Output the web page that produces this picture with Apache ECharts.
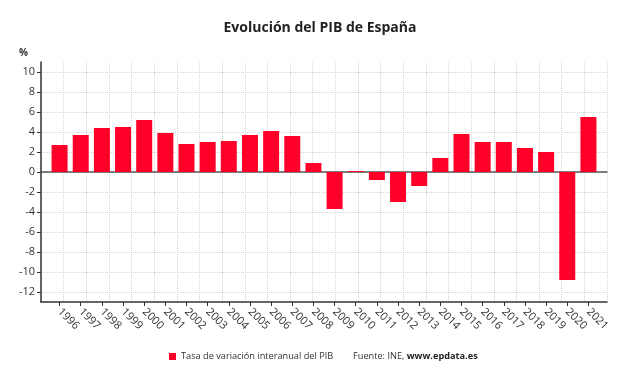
<!DOCTYPE html>
<html>
<head>
<meta charset="utf-8">
<script src="https://cdn.jsdelivr.net/npm/echarts@6/dist/echarts.min.js"></script>
<style>
  html, body { margin: 0; padding: 0; background: #fff; }
  #main { width: 640px; height: 376px; }
</style>
</head>
<body>
<div id="main"></div>
<script>
// datos
var years = ['1996', '1997', '1998', '1999', '2000', '2001', '2002', '2003', '2004',
  '2005', '2006', '2007', '2008', '2009', '2010', '2011', '2012', '2013', '2014',
  '2015', '2016', '2017', '2018', '2019', '2020', '2021'];
var pib = [2.7, 3.7, 4.4, 4.5, 5.2, 3.9, 2.8, 3.0, 3.1, 3.7, 4.1, 3.6, 0.9,
  -3.7, 0.1, -0.8, -3.0, -1.4, 1.4, 3.8, 3.0, 3.0, 2.4, 2.0, -10.8, 5.5];
var seriesName = 'Tasa de variación interanual del PIB';

var myChart = echarts.init(document.getElementById('main'));
var font = '"Open Sans", "Noto Sans", sans-serif';
var gridLine = { color: '#d4d4d4', type: 'dotted', width: 1 };

var option = {
  backgroundColor: '#FFFFFF',
  animation: false,
  textStyle: { fontFamily: font },
  title: [{
    left: 'center',
    top: 16,
    text: 'Evolución del PIB de España',
    textStyle: { fontSize: 14, fontWeight: 'bold', color: '#222', fontFamily: font }
  }, {
    left: 14,
    top: 43,
    text: '%',
    textStyle: { fontSize: 10, fontWeight: 'bold', color: '#333', fontFamily: font }
  }, {
    left: 348,
    top: 347,
    text: '{a|Fuente: INE, }{b|www.epdata.es}',
    textStyle: {
      fontWeight: 'normal',
      rich: {
        a: { fontSize: 9.2, color: '#333', fontWeight: 'normal', fontFamily: font },
        b: { fontSize: 9.2, color: '#222', fontWeight: 'bold', fontFamily: font }
      }
    }
  }],
  legend: {
    left: 164,
    top: 347,
    itemWidth: 7,
    itemHeight: 7,
    icon: 'rect',
    itemGap: 5,
    textStyle: { fontSize: 9.2, color: '#333', fontFamily: font },
    data: [seriesName]
  },
  grid: [
    // etiquetas y lineas horizontales (-12..10)
    { left: 41, right: 33, top: 72, bottom: 84 },
    // marco completo (-13..11)
    { left: 41, right: 33, top: 62, bottom: 74 },
    // barras
    { left: 49, right: 41, top: 62, bottom: 74 }
  ],
  xAxis: [{
    gridIndex: 0,
    type: 'value',
    min: 0, max: 1,
    axisLine: { show: true, onZero: true, lineStyle: { color: '#555', width: 1.5 } },
    axisTick: { show: false },
    axisLabel: { show: false },
    splitLine: { show: false }
  }, {
    gridIndex: 1,
    type: 'value',
    min: 0, max: 25, interval: 1,
    axisLine: { show: true, onZero: false, lineStyle: { color: '#333', width: 1.5 } },
    axisTick: { show: false },
    axisLabel: { show: false },
    splitLine: { show: true, lineStyle: gridLine }
  }, {
    gridIndex: 2,
    type: 'category',
    data: years,
    axisLine: { show: false, onZero: false },
    axisTick: { show: true, alignWithLabel: true, length: 4, lineStyle: { color: '#333' } },
    axisLabel: {
      interval: 0,
      rotate: -45,
      margin: 8,
      fontSize: 11,
      color: '#333',
      fontFamily: font
    },
    splitLine: { show: false }
  }],
  yAxis: [{
    gridIndex: 0,
    type: 'value',
    min: -12, max: 10, interval: 2,
    axisLine: { show: false },
    axisTick: { show: true, length: 4, lineStyle: { color: '#333' } },
    axisLabel: { fontSize: 11, color: '#333', margin: 6, fontFamily: font },
    splitLine: { show: true, lineStyle: gridLine }
  }, {
    gridIndex: 1,
    type: 'value',
    min: -13, max: 11,
    axisLine: { show: true, lineStyle: { color: '#333', width: 1.5 } },
    axisTick: { show: false },
    axisLabel: { show: false },
    splitLine: { show: false }
  }, {
    gridIndex: 2,
    type: 'value',
    min: -13, max: 11,
    show: false
  }],
  series: [{
    name: seriesName,
    type: 'bar',
    xAxisIndex: 2,
    yAxisIndex: 2,
    barWidth: 16,
    itemStyle: { color: '#FF0028' },
    data: pib
  }]
};

myChart.setOption(option);
</script>
</body>
</html>
